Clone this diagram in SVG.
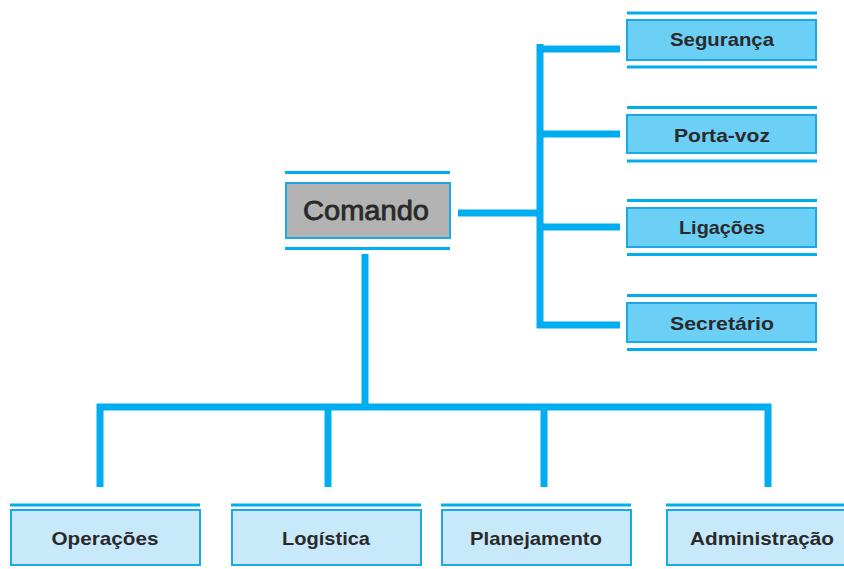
<svg xmlns="http://www.w3.org/2000/svg" width="844" height="569" viewBox="0 0 844 569">
<style>
.ln{stroke:#00aeef;stroke-width:3;fill:none}
.cn{stroke:#00aeef;stroke-width:7;fill:none;stroke-linecap:butt}
.bx{stroke:#1aa9e6;stroke-width:2}
.gray{fill:#b3b3b3}
.mid{fill:#6ccff6}
.lite{fill:#c8e9fa}
text{font-family:"Liberation Sans",Arial,Helvetica,sans-serif;fill:#2a2a2a;text-anchor:middle}
.t{font-size:19px;font-weight:bold}
.tc{font-size:27px;stroke:#2a2a2a;stroke-width:0.8}
</style>
<rect width="844" height="569" fill="#fff"/>
<g id="connectors">
<path class="cn" d="M458 213H540M540 44V328M537 49H620M537 134H620M537 227H620M537 325H620"/>
<path class="cn" d="M365 254V407M100 487V407H768V487M328 407V487M544 407V487"/>
</g>
<g id="comando">
<line class="ln" x1="285" y1="172.5" x2="450" y2="172.5"/>
<rect class="bx gray" x="286" y="183" width="164" height="55"/>
<line class="ln" x1="285" y1="248.5" x2="450" y2="248.5"/>
<text class="tc" x="366" y="220" textLength="126" lengthAdjust="spacingAndGlyphs">Comando</text>
</g>
<g id="seguranca">
<line class="ln" x1="627" y1="13" x2="817" y2="13"/>
<rect class="bx mid" x="627" y="20" width="189" height="40"/>
<line class="ln" x1="627" y1="67" x2="817" y2="67"/>
<text class="t" x="722" y="46" textLength="104" lengthAdjust="spacingAndGlyphs">Segurança</text>
</g>
<g id="porta-voz">
<line class="ln" x1="627" y1="107.5" x2="817" y2="107.5"/>
<rect class="bx mid" x="627" y="115" width="189" height="38"/>
<line class="ln" x1="627" y1="161" x2="817" y2="161"/>
<text class="t" x="722" y="142" textLength="96" lengthAdjust="spacingAndGlyphs">Porta-voz</text>
</g>
<g id="ligacoes">
<line class="ln" x1="627" y1="200.5" x2="817" y2="200.5"/>
<rect class="bx mid" x="627" y="208" width="189" height="39"/>
<line class="ln" x1="627" y1="254.5" x2="817" y2="254.5"/>
<text class="t" x="722" y="234" textLength="86" lengthAdjust="spacingAndGlyphs">Ligações</text>
</g>
<g id="secretario">
<line class="ln" x1="627" y1="295.5" x2="817" y2="295.5"/>
<rect class="bx mid" x="627" y="303" width="189" height="39"/>
<line class="ln" x1="627" y1="349.5" x2="817" y2="349.5"/>
<text class="t" x="722" y="330" textLength="104" lengthAdjust="spacingAndGlyphs">Secretário</text>
</g>
<g id="operacoes">
<line class="ln" x1="10" y1="505" x2="200" y2="505"/>
<rect class="bx lite" x="11" y="510" width="189" height="55"/>
<text class="t" x="105" y="545" textLength="107" lengthAdjust="spacingAndGlyphs">Operações</text>
</g>
<g id="logistica">
<line class="ln" x1="231" y1="505" x2="421" y2="505"/>
<rect class="bx lite" x="232" y="510" width="189" height="55"/>
<text class="t" x="326" y="545" textLength="88" lengthAdjust="spacingAndGlyphs">Logística</text>
</g>
<g id="planejamento">
<line class="ln" x1="441" y1="505" x2="631" y2="505"/>
<rect class="bx lite" x="442" y="510" width="189" height="55"/>
<text class="t" x="536" y="545" textLength="132" lengthAdjust="spacingAndGlyphs">Planejamento</text>
</g>
<g id="administracao">
<line class="ln" x1="666" y1="505" x2="846" y2="505"/>
<rect class="bx lite" x="667" y="510" width="190" height="55"/>
<text class="t" x="762" y="545" textLength="144" lengthAdjust="spacingAndGlyphs">Administração</text>
</g>
</svg>
